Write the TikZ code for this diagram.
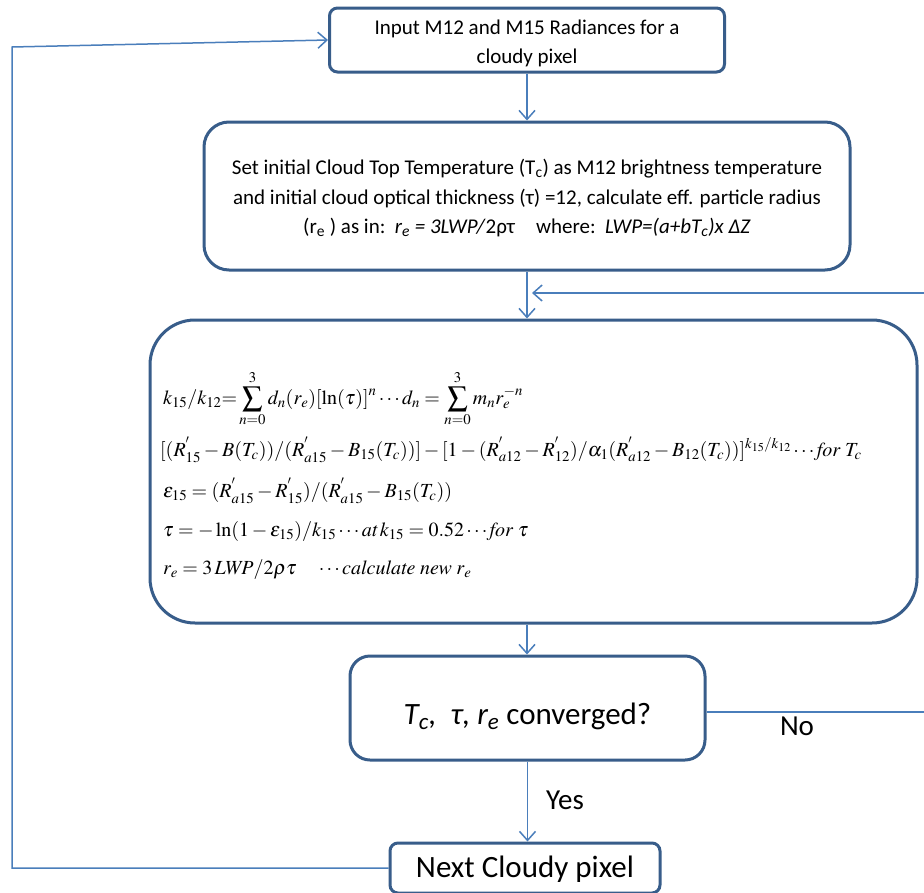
\documentclass[tikz,border=0pt]{standalone}
\usepackage{mathptmx}
\usepackage[no-math]{fontspec}
\setmainfont{Carlito}
\usetikzlibrary{arrows.meta}
\definecolor{boxc}{RGB}{56,93,138}
\definecolor{linec}{RGB}{74,126,187}
\newcommand{\lines}[2][0pt]{\raisebox{#1}[0pt][0pt]{\begin{tabular}{@{}c@{}}#2\end{tabular}}}
\begin{document}
\begin{tikzpicture}[x=1pt,y=-1pt,
  box/.style={draw=boxc, line width=3pt, fill=white, rectangle, inner sep=0pt, align=center},
  conn/.style={draw=linec, line width=1.5pt, -{Straight Barb[length=9pt,width=16pt,line width=1.5pt]}},
  txt21/.style={font=\fontsize{21}{29.5}\selectfont},
  big/.style={font=\fontsize{31}{34}\selectfont},
  lab/.style={font=\fontsize{29}{32}\selectfont},
  eq/.style={anchor=base west, inner sep=0pt, font=\fontsize{20}{24}\selectfont}]
\useasboundingbox (0,0) rectangle (924,892);
\clip (0,0) rectangle (924,892);
\fill[white] (0,0) rectangle (924,892);
% boxes
\node[box, txt21, rounded corners=8pt, minimum width=395pt, minimum height=64pt] (top) at (527,40)
  {\lines[-8.5pt]{Input M12 and M15 Radiances for a\\cloudy pixel}};
\node[box, txt21, rounded corners=25pt, minimum width=646pt, minimum height=148pt] (init) at (527,196)
  {\lines[-7.5pt]{Set initial Cloud Top Temperature (T\textsubscript{c}) as M12 brightness temperature\\
   and initial cloud optical thickness (τ) =12, calculate eff. particle radius\\
   (r\textsubscript{e} ) as in:\ \ \textit{r\textsubscript{e} = 3LWP/}2ρτ\quad where:\ \ \textit{LWP=(a+bT\textsubscript{c})x ΔZ}}};
\node[box, rounded corners=45pt, minimum width=767pt, minimum height=303pt] (iter) at (533.5,471.5) {};
\node[box, big, rounded corners=20pt, minimum width=355pt, minimum height=104pt] (conv) at (527.5,708)
  {\lines[-17.5pt]{\textit{T\textsubscript{c},\ \ τ, r\textsubscript{e}} converged?}};
\node[box, font=\fontsize{31}{34}\selectfont, rounded corners=8pt, minimum width=270pt, minimum height=50pt] (next) at (525,868)
  {\lines[-10.5pt]{Next Cloudy pixel}};
% equations
\node[eq] (eqa) at (163,404) {$\displaystyle k_{15}/k_{12}{=}\sum_{n=0}^{3}d_n(r_e)[\ln(\tau)]^n\cdots d_n=\sum_{n=0}^{3}m_n r_e^{-n}$};
\node[eq] (eqb) at (160,456) {$[(R^{'}_{15}-B(T_c))/(R^{'}_{a15}-B_{15}(T_c))]-[1-(R^{'}_{a12}-R^{'}_{12})/\alpha_1(R^{'}_{a12}-B_{12}(T_c))]^{k_{15}/k_{12}}\cdots \mathit{for}\ T_c$};
\node[eq] (eqc) at (163,497) {$\varepsilon_{15}=(R^{'}_{a15}-R^{'}_{15})/(R^{'}_{a15}-B_{15}(T_c))$};
\node[eq] (eqd) at (163,536) {$\tau=-\ln(1-\varepsilon_{15})/k_{15}\cdots \mathit{at}\,k_{15}=0.52\cdots \mathit{for}\ \tau$};
\node[eq] (eqe) at (163,574) {$r_e=3\,\mathit{LWP}/2\rho\tau\quad\cdots \mathit{calculate\ new}\ r_e$};
% labels
\node[lab] (no) at (797,726) {No};
\node[lab] (yes) at (565,800) {Yes};
% coordinates
\coordinate (rb) at (930,712);
\coordinate (rt) at (930,293);
\coordinate (lb) at (12,868);
\coordinate (lt) at (12,47);
% connectors
\draw[conn] (top.south) -- (top.south |- init.north);
\draw[conn] (init.south) -- (init.south |- iter.north);
\draw[conn] (init.south |- iter.south) -- (init.south |- conv.north);
\draw[conn] (conv.south) -- (conv.south |- next.north);
\draw[conn] ([yshift=-4pt]conv.east) -- (rb) -- (rt) -- ([xshift=5pt]init.south |- rt);
\draw[conn] (next.west) -- (lb) -- (lt) -- (top.west);
\end{tikzpicture}
\end{document}
